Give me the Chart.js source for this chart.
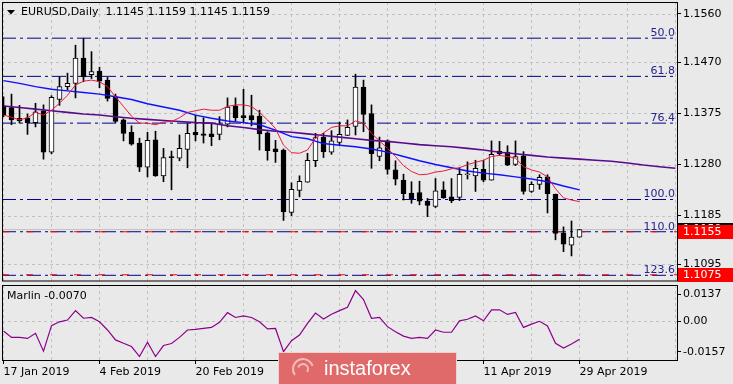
<!DOCTYPE html>
<html>
<head>
<meta charset="utf-8">
<script src="https://cdn.jsdelivr.net/npm/chart.js@4.4.1/dist/chart.umd.min.js"></script>
<style>
  html, body { margin: 0; padding: 0; background: #e9e9e9; }
  #wrap { position: relative; width: 733px; height: 384px; overflow: hidden; }
  #main { position: absolute; left: 0; top: 0; }
  #ind { position: absolute; left: 0; top: 283px; }
</style>
</head>
<body>
<div id="wrap">
  <canvas id="main" width="733" height="283"></canvas>
  <canvas id="ind" width="733" height="101"></canvas>
</div>
<script>
// EURUSD daily candles, 17 Jan 2019 .. 29 Apr 2019 (one per trading day)
const opens  = [1.1389,1.1386,1.1366,1.1367,1.1358,1.1380,1.1303,1.1401,1.1425,1.1431,1.1478,1.1447,1.1454,1.1437,1.1406,1.1363,1.1340,1.1320,1.1275,1.1326,
                1.1259,1.1295,1.1292,1.1308,1.1340,1.1337,1.1337,1.1336,1.1355,1.1389,1.1371,1.1371,1.1370,1.1339,1.1309,1.1307,1.1191,1.1232,1.1247,1.1287,
                1.1331,1.1303,1.1321,1.1334,1.1351,1.1424,1.1375,1.1295,1.1324,1.1270,1.1251,1.1227,1.1228,1.1212,1.1202,1.1233,1.1220,1.1219,1.1261,1.1259,
                1.1271,1.1251,1.1305,1.1303,1.1280,1.1296,1.1230,1.1243,1.1257,1.1225,1.1153,1.1130,1.1145];
const highs  = [1.1406,1.1411,1.1390,1.1374,1.1394,1.1391,1.1408,1.1443,1.1450,1.1502,1.1515,1.1490,1.1461,1.1442,1.1411,1.1365,1.1352,1.1329,1.1340,1.1342,
                1.1310,1.1305,1.1335,1.1356,1.1372,1.1367,1.1357,1.1369,1.1404,1.1404,1.1420,1.1409,1.1381,1.1341,1.1325,1.1309,1.1246,1.1259,1.1301,1.1338,
                1.1338,1.1343,1.1359,1.1363,1.1448,1.1437,1.1391,1.1331,1.1326,1.1287,1.1262,1.1248,1.1249,1.1217,1.1254,1.1248,1.1254,1.1274,1.1285,1.1288,
                1.1288,1.1324,1.1323,1.1315,1.1324,1.1304,1.1248,1.1261,1.1261,1.1225,1.1164,1.1175,1.1159];
const lows   = [1.1369,1.1354,1.1357,1.1336,1.1350,1.1290,1.1300,1.1390,1.1419,1.1404,1.1434,1.1440,1.1423,1.1398,1.1358,1.1324,1.1316,1.1267,1.1257,1.1258,
                1.1248,1.1233,1.1287,1.1274,1.1324,1.1320,1.1315,1.1326,1.1350,1.1361,1.1357,1.1352,1.1307,1.1288,1.1284,1.1176,1.1185,1.1220,1.1247,1.1276,
                1.1293,1.1299,1.1316,1.1334,1.1335,1.1341,1.1273,1.1287,1.1262,1.1242,1.1214,1.1208,1.1205,1.1183,1.1200,1.1217,1.1209,1.1213,1.1253,1.1230,
                1.1248,1.1251,1.1297,1.1278,1.1278,1.1225,1.1228,1.1234,1.1190,1.1140,1.1118,1.1110,1.1145];
const closes = [1.1372,1.1363,1.1361,1.1358,1.1378,1.1303,1.1405,1.1425,1.1431,1.1478,1.1443,1.1453,1.1435,1.1403,1.1360,1.1338,1.1318,1.1275,1.1325,1.1259,
                1.1293,1.1293,1.1310,1.1338,1.1335,1.1334,1.1332,1.1355,1.1387,1.1367,1.1367,1.1363,1.1337,1.1306,1.1304,1.1192,1.1234,1.1249,1.1288,1.1330,
                1.1304,1.1324,1.1336,1.1349,1.1424,1.1373,1.1300,1.1311,1.1271,1.1253,1.1226,1.1216,1.1212,1.1204,1.1231,1.1218,1.1213,1.1262,1.1262,1.1273,
                1.1251,1.1299,1.1300,1.1279,1.1295,1.1230,1.1243,1.1256,1.1226,1.1152,1.1132,1.1145,1.1159];

// moving averages (red: every bar; blue, purple: every second bar)
const redMA = [1.1372,1.1368,1.1363,1.1367,1.1377,1.1372,1.1381,1.1394,1.1409,1.1428,1.1435,1.1437,1.1434,1.1425,1.1406,1.1388,1.1370,1.1357,1.1357,1.1354,
               1.1359,1.1360,1.1367,1.1377,1.1380,1.1383,1.1381,1.1381,1.1388,1.1391,1.1391,1.1388,1.1377,1.1363,1.1347,1.1316,1.1302,1.1301,1.1307,1.1329,
               1.1339,1.1349,1.1352,1.1352,1.1361,1.1357,1.1338,1.1324,1.1310,1.1295,1.1278,1.1267,1.1261,1.1262,1.1266,1.1268,1.1272,1.1274,1.1280,1.1284,
               1.1288,1.1295,1.1297,1.1295,1.1292,1.1276,1.1270,1.1266,1.1257,1.1235,1.1218,1.1214,1.1211];
const blueMA = [1.1436,1.1431,1.1425,1.1420,1.1417,1.1414,1.1411,1.1406,1.1401,1.1393,1.1387,1.1381,1.1372,1.1366,1.1361,1.1358,1.1354,1.1344,1.1332,
                1.1328,1.1319,1.1316,1.1313,1.1309,1.1303,1.1295,1.1287,1.1280,1.1274,1.1268,1.1264,1.1261,1.1257,1.1253,1.1248,1.1240,1.1233];
const purpleMA = [1.1389,1.1386,1.1383,1.1380,1.1377,1.1374,1.1372,1.1369,1.1366,1.1364,1.1362,1.1360,1.1358,1.1357,1.1352,1.1349,1.1345,1.1342,1.1340,
                  1.1337,1.1334,1.1331,1.1328,1.1325,1.1323,1.1320,1.1317,1.1315,1.1313,1.1310,1.1307,1.1303,1.1300,1.1297,1.1294,1.1292,1.1290,1.1288,
                  1.1286,1.1283,1.1279,1.1276,1.1273];

// Marlin oscillator
const marlin = [-0.0038,-0.0063,-0.0063,-0.0067,-0.0047,-0.0117,-0.0017,-0.0002,0.0005,0.0042,0.0012,0.0015,-0.0002,-0.0034,-0.0073,-0.0086,-0.0099,-0.0138,
                -0.0082,-0.0138,-0.0095,-0.0087,-0.0063,-0.0034,-0.0032,-0.0028,-0.0024,-0.0004,0.0034,0.0015,0.0021,0.0015,-0.0002,-0.0030,-0.0028,-0.0119,
                -0.0076,-0.0054,-0.0008,0.0032,0.0009,0.0028,0.0042,0.0055,0.0120,0.0085,0.0012,0.0015,-0.0021,-0.0041,-0.0058,-0.0067,-0.0063,-0.0067,
                -0.0034,-0.0043,-0.0043,0.0002,0.0008,0.0021,0.0002,0.0045,0.0045,0.0027,0.0035,-0.0024,-0.0011,0.0000,-0.0018,-0.0086,-0.0105,-0.0089,-0.0070];

// fibo levels and price marks
const fibLevels = [1.1515, 1.1444, 1.1357, 1.1215, 1.1155, 1.1074];
const fibNames  = ['50.0', '61.8', '76.4', '100.0', '110.0', '123.6'];
const redMarks  = [1.1155, 1.1075];

// axis ticks
const priceTicks = [1.1560, 1.1470, 1.1375, 1.1280, 1.1185, 1.1095];
const marlinTickPos = [0.0107, 0, -0.0120];
const marlinTickText = ['0.0137', '0.00', '-0.0157'];
const dateTickIdx = [0, 12, 24, 36, 48, 60, 72];
const dateTickText = ['17 Jan 2019', '4 Feb 2019', '20 Feb 2019', '8 Mar 2019', '26 Mar 2019', '11 Apr 2019', '29 Apr 2019'];

//-------------------------------------------------//

Chart.defaults.font.family = 'DejaVu Sans';
Chart.defaults.font.size = 11;
Chart.defaults.color = '#000';

const XMIN = -0.1875, XMAX = 84.1875;
const slots = [];
for (let i = 0; i <= 84; i++) slots.push(i);
const gridIdx = slots.filter(i => i % 6 === 0);
const last = closes.length - 1;

function xAxis(extra) {
    return Object.assign({
        type: 'linear', min: XMIN, max: XMAX, offset: false,
        afterBuildTicks: s => { s.ticks = gridIdx.map(v => ({ value: v })); },
        grid: { drawOnChartArea: false, offset: false, drawTicks: false },
        border: { display: false }
    }, extra);
}

function flatLine(y, color, dash, order) {
    return {
        type: 'line', data: [{ x: XMIN, y: y }, { x: XMAX, y: y }],
        borderColor: color, borderWidth: 1, borderDash: dash, pointRadius: 0, order: order
    };
}

// dashed grey grid, MT4 style
function gridPlugin(yValues) {
    return {
        id: 'mtGrid',
        beforeDatasetsDraw(chart) {
            const { ctx, chartArea: a, scales: { x, y } } = chart;
            ctx.save();
            ctx.strokeStyle = '#c2c2c2';
            ctx.lineWidth = 1;
            ctx.setLineDash([3, 3]);
            ctx.beginPath();
            gridIdx.forEach(v => {
                const px = Math.floor(x.getPixelForValue(v)) + 0.5;
                ctx.moveTo(px, a.top); ctx.lineTo(px, a.bottom);
            });
            yValues.forEach(v => {
                const py = Math.round(y.getPixelForValue(v)) + 0.5;
                ctx.moveTo(a.left, py); ctx.lineTo(a.right, py);
            });
            ctx.stroke();
            ctx.restore();
        }
    };
}

const mainPlugin = {
    id: 'mainDecor',
    afterDraw(chart) {
        const { ctx, chartArea: a, scales: { y } } = chart;
        ctx.save();
        // panel frame
        ctx.strokeStyle = '#000';
        ctx.lineWidth = 1;
        ctx.strokeRect(a.left + 0.5, a.top + 0.5, a.right - a.left, a.bottom - a.top - 0.5);
        // fibo labels
        ctx.fillStyle = '#24248f';
        ctx.font = '11px "DejaVu Sans"';
        ctx.textAlign = 'right';
        ctx.textBaseline = 'alphabetic';
        fibLevels.forEach((v, i) => ctx.fillText(fibNames[i], a.right - 2, y.getPixelForValue(v) - 2));
        // header
        ctx.fillStyle = '#000';
        ctx.beginPath();
        ctx.moveTo(7, 10); ctx.lineTo(15, 10); ctx.lineTo(11, 14.5); ctx.closePath();
        ctx.fill();
        ctx.textAlign = 'left';
        ctx.textBaseline = 'middle';
        const ohlc = [opens[last], highs[last], lows[last], closes[last]].map(v => v.toFixed(4)).join(' ');
        ctx.fillText('EURUSD,Daily  ' + ohlc, 21, 12.5);
        // price boxes on the axis
        const box = (v, bg) => {
            const py = y.getPixelForValue(v);
            ctx.fillStyle = bg;
            ctx.fillRect(a.right + 1, Math.round(py - 7), chart.width - a.right - 1, 14);
            ctx.fillStyle = '#fff';
            ctx.fillText(v.toFixed(4), a.right + 6, py);
        };
        box(closes[last], '#000');
        redMarks.forEach(v => box(v, '#ff0000'));
        ctx.restore();
    }
};

new Chart(document.getElementById('main'), {
    type: 'bar',
    data: {
        labels: slots,
        datasets: [{
            type: 'line', data: redMA, borderColor: '#e8193c', borderWidth: 1, pointRadius: 0, order: 0
        }, {
            type: 'line', data: blueMA.map((v, k) => ({ x: k * 2, y: v })), borderColor: '#1010ff', borderWidth: 1.4, pointRadius: 0, order: 0
        }, {
            type: 'line', data: purpleMA.map((v, k) => ({ x: k * 2, y: v })), borderColor: '#5a0a8c', borderWidth: 1.6, pointRadius: 0, order: 0
        }, {
            data: opens.map((o, i) => [o, closes[i]]),
            backgroundColor: opens.map((o, i) => closes[i] >= o ? '#ffffff' : '#000000'),
            borderColor: '#000', borderWidth: 1, borderSkipped: false,
            barThickness: 5, minBarLength: 1, grouped: false, order: 1
        }, {
            data: lows.map((l, i) => [l, highs[i]]),
            backgroundColor: '#000', barThickness: 1, grouped: false, order: 2
        },
        flatLine(closes[last], '#c0c0c0', [], 3),
        ...redMarks.map(v => flatLine(v, '#ff0000', [7, 17], 4)),
        ...fibLevels.map(v => flatLine(v, '#00008b', [14, 4, 3, 4], 5))
        ]
    },
    options: {
        responsive: false,
        animation: false,
        events: [],
        layout: { padding: { left: 2, top: 2, right: 0, bottom: 2 }, autoPadding: false },
        plugins: { legend: { display: false }, tooltip: { enabled: false } },
        scales: {
            x: xAxis({
                ticks: { display: false },
                afterFit: s => { s.height = 0; s.paddingLeft = 0; s.paddingRight = 0; }
            }),
            y: {
                position: 'right',
                min: 1.10634, max: 1.15823,
                afterBuildTicks: s => { s.ticks = priceTicks.map(v => ({ value: v })); },
                afterFit: s => { s.width = 56; s.paddingTop = 0; s.paddingBottom = 0; },
                ticks: { padding: 2, callback: v => v.toFixed(4) },
                grid: { drawOnChartArea: false, tickColor: '#000', tickLength: 4, tickBorderDash: [] },
                border: { display: false }
            }
        }
    },
    plugins: [gridPlugin(priceTicks), mainPlugin]
});

const indPlugin = {
    id: 'indDecor',
    afterDraw(chart) {
        const { ctx, chartArea: a } = chart;
        ctx.save();
        ctx.strokeStyle = '#000';
        ctx.lineWidth = 1;
        ctx.strokeRect(a.left + 0.5, a.top + 0.5, a.right - a.left, a.bottom - a.top);
        ctx.fillStyle = '#000';
        ctx.font = '11px "DejaVu Sans"';
        ctx.textBaseline = 'middle';
        ctx.fillText('Marlin ' + marlin[last].toFixed(4), 7, 13.5);
        // watermark
        ctx.fillStyle = '#e06a6a';
        ctx.strokeStyle = '#f3d0d0';
        ctx.beginPath();
        ctx.rect(278.5, 69.5, 178, 34);
        ctx.fill();
        ctx.stroke();
        ctx.strokeStyle = 'rgba(255,255,255,0.55)';
        ctx.lineWidth = 2;
        ctx.beginPath(); ctx.arc(303, 86, 10, Math.PI * 0.8, Math.PI * 1.9); ctx.stroke();
        ctx.beginPath(); ctx.arc(303, 86, 5, Math.PI * 1.1, Math.PI * 2.2); ctx.stroke();
        ctx.fillStyle = '#fff';
        ctx.font = '20px "Liberation Sans"';
        ctx.textBaseline = 'alphabetic';
        ctx.fillText('instaforex', 324, 92);
        ctx.restore();
    }
};

new Chart(document.getElementById('ind'), {
    type: 'line',
    data: {
        labels: slots,
        datasets: [{
            data: marlin, borderColor: '#8b008b', borderWidth: 1.2, pointRadius: 0
        }]
    },
    options: {
        responsive: false,
        animation: false,
        events: [],
        layout: { padding: { left: 2, top: 2, right: 0, bottom: 0 }, autoPadding: false },
        plugins: { legend: { display: false }, tooltip: { enabled: false } },
        scales: {
            x: xAxis({
                afterFit: s => { s.height = 24; s.paddingLeft = 0; s.paddingRight = 0; },
                ticks: {
                    autoSkip: false, maxRotation: 0, minRotation: 0, align: 'start', padding: 2,
                    callback: v => { const k = dateTickIdx.indexOf(v); return k < 0 ? '' : dateTickText[k]; }
                },
                grid: {
                    drawOnChartArea: false, offset: false, drawTicks: true, tickLength: 4, tickBorderDash: [],
                    tickColor: c => dateTickIdx.indexOf(c.tick ? c.tick.value : -1) < 0 ? 'rgba(0,0,0,0)' : '#000'
                }
            }),
            y: {
                position: 'right',
                min: -0.01517, max: 0.01423,
                afterBuildTicks: s => { s.ticks = marlinTickPos.map(v => ({ value: v })); },
                afterFit: s => { s.width = 56; s.paddingTop = 0; s.paddingBottom = 0; },
                ticks: { padding: 2, callback: (v, i) => marlinTickText[i] },
                grid: { drawOnChartArea: false, tickColor: '#000', tickLength: 4, tickBorderDash: [] },
                border: { display: false }
            }
        }
    },
    plugins: [gridPlugin([0]), indPlugin]
});
</script>
</body>
</html>
